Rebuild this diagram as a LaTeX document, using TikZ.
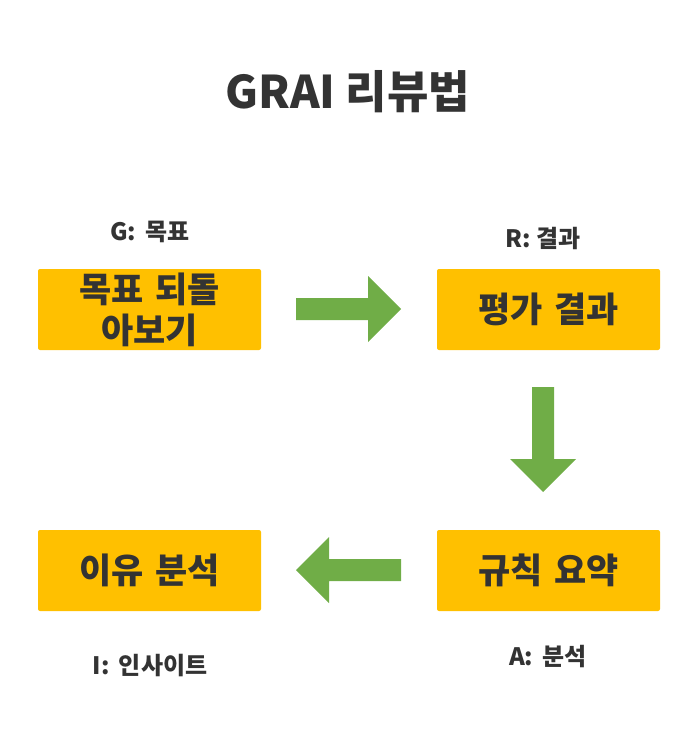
\documentclass[tikz,border=0pt]{standalone}
\usepackage{fontspec}
\setmainfont{Noto Sans CJK KR}
\definecolor{boxfill}{HTML}{FFC000}
\definecolor{arrowgreen}{HTML}{70AD47}
\definecolor{textgrey}{HTML}{333333}
\tikzset{
  stagebox/.style={fill=boxfill, rounded corners=2pt, minimum width=223pt, minimum height=81pt,
    text width=210pt, align=center, font=\bfseries\fontsize{35}{41}\selectfont, text=textgrey, inner sep=0pt},
  tag/.style={font=\bfseries\fontsize{24}{28}\selectfont, text=textgrey},
  blockarrow/.style={fill=arrowgreen}
}
\begin{document}
\begin{tikzpicture}[x=1pt,y=-1pt]
        \useasboundingbox (0,0) rectangle (697,733);

        \node[font=\bfseries\fontsize{45}{50}\selectfont, text=textgrey] (title) at (348, 92) {GRAI 리뷰법};

        % stages
        \node[stagebox] (goal) at (149.5, 309.5) {목표 되돌\\아보기};
        \node[stagebox] (result) at (548.5, 309.5) {평가 결과};
        \node[stagebox] (rule) at (548.5, 570.5) {규칙 요약};
        \node[stagebox] (reason) at (149.5, 570.5) {이유 분석};

        % tags
        \node[tag] (gtag) at (150, 232) {G:\, 목표};
        \node[tag] (rtag) at (543, 238) {R: 결과};
        \node[tag] (atag) at (548, 657) {A:\, 분석};
        \node[tag] (itag) at (150, 666) {I:\, 인사이트};

        % arrows
        \fill[blockarrow] (296,298) -- (368,298) -- (368,276) -- (401,309)
            -- (368,342) -- (368,320) -- (296,320) -- cycle;
        \fill[blockarrow] (532,387) -- (554,387) -- (554,459) -- (576,459)
            -- (543,492) -- (510,459) -- (532,459) -- cycle;
        \fill[blockarrow] (401,559) -- (329,559) -- (329,537) -- (296,570)
            -- (329,603) -- (329,581) -- (401,581) -- cycle;
\end{tikzpicture}
\end{document}
